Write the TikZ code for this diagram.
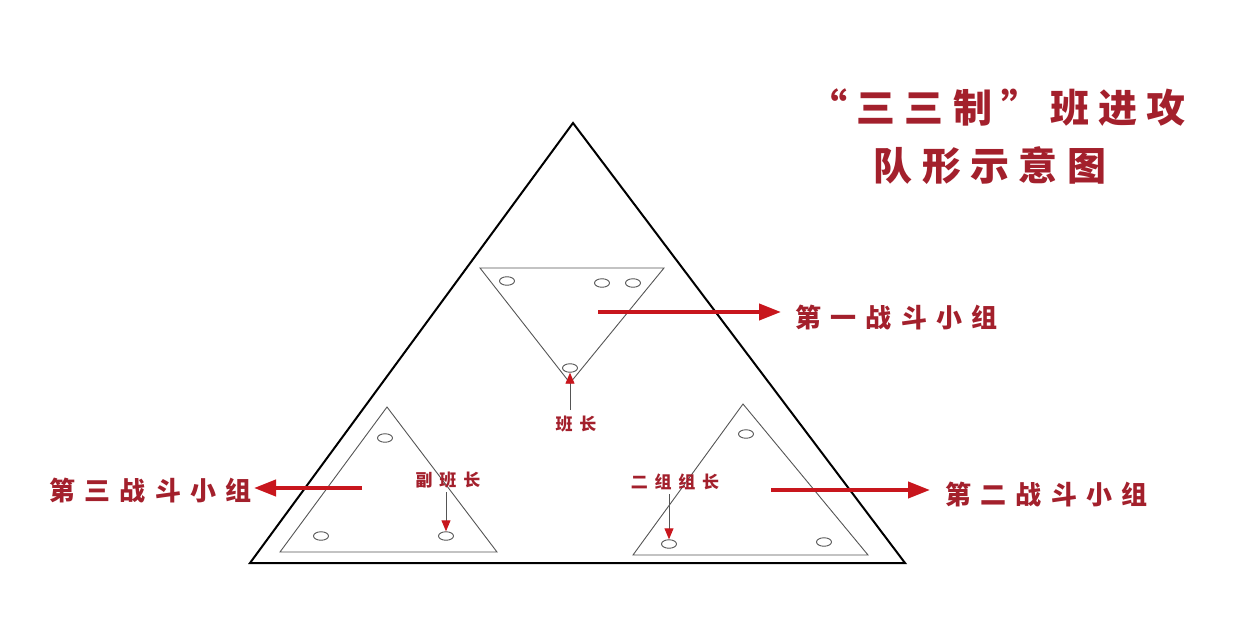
\documentclass[tikz,border=0pt]{standalone}
\usepackage{fontspec}
\usetikzlibrary{arrows.meta,shapes.geometric}
\newfontfamily\cjk[LetterSpace=40]{Noto Sans CJK SC}
\newfontfamily\cjkwide[LetterSpace=36]{Noto Sans CJK SC}
\newfontfamily\cjktitle[LetterSpace=24]{Noto Sans CJK SC}
\definecolor{txtred}{HTML}{A3202C}
\definecolor{arrred}{HTML}{C8161D}
\definecolor{thin}{HTML}{555555}
\begin{document}
\begin{tikzpicture}[x=1pt,y=-1pt,
  outer/.style={draw=black,line width=2pt,line join=miter},
  inner/.style={draw=thin,line width=0.9pt},
  seat/.style={draw=thin,line width=0.9pt,ellipse,minimum width=15pt,minimum height=8.5pt,inner sep=0pt},
  grouplabel/.style={text=txtred,font=\cjkwide\fontsize{26}{28}\selectfont\bfseries,inner sep=0pt},
  smalllabel/.style={text=txtred,font=\cjk\fontsize{17}{19}\selectfont\bfseries,inner sep=0pt},
  bigarrow/.style={draw=arrred,line width=4pt,-{Triangle[length=22pt,width=16pt]}},
  smallarrow/.style={draw=thin,line width=0.9pt,-{Triangle[length=11pt,width=9pt,color=arrred]}}
]
\useasboundingbox (0,0) rectangle (1256,626);
% big triangle
\draw[outer] (573,123) -- (905,563) -- (250,563) -- cycle;
% top small triangle (inverted)
\draw[inner] (480,268) -- (664,268) -- (570,383) -- cycle;
\node[seat] (s1) at (507,281) {};
\node[seat] (s2) at (602,283) {};
\node[seat] (s3) at (633,283) {};
\node[seat] (s4) at (570,368) {};
% bottom-left triangle
\draw[inner] (387,407) -- (497,552) -- (280,552) -- cycle;
\node[seat] (s5) at (385,438) {};
\node[seat] (s6) at (321,536) {};
\node[seat] (s7) at (446,536) {};
% bottom-right triangle
\draw[inner] (743,404) -- (868,555) -- (633,555) -- cycle;
\node[seat] (s8) at (746,434) {};
\node[seat] (s9) at (669,544) {};
\node[seat] (s10) at (824,542) {};
% title
\node[text=txtred,font=\cjktitle\fontsize{39}{41}\selectfont\bfseries,inner sep=0pt] (t1) at (997,108) {“三三制”班进攻};
\node[text=txtred,font=\cjktitle\fontsize{39}{41}\selectfont\bfseries,inner sep=0pt] (t2) at (990,166) {队形示意图};
% group labels
\node[grouplabel,anchor=west] (g1) at (795,318) {第一战斗小组};
\node[grouplabel,anchor=west] (g2) at (945,494) {第二战斗小组};
\node[grouplabel,anchor=east] (g3) at (252,490) {第三战斗小组};
% small labels
\node[smalllabel] (l1) at (576,424) {班长};
\node[smalllabel] (l2) at (448,480) {副班长};
\node[smalllabel] (l3) at (675,482) {二组组长};
% big arrows
\coordinate (a1) at (598,312);
\coordinate (a2) at (771,490);
\coordinate (a3) at (362,488);
\draw[bigarrow] (a1) -- ([xshift=-14pt]g1.west|-a1);
\draw[bigarrow] (a2) -- ([xshift=-15pt]g2.west|-a2);
\draw[bigarrow] (a3) -- ([xshift=2pt]g3.east|-a3);
% small arrows
\draw[smallarrow] (570,410) -- (s4.south);
\draw[smallarrow] ([yshift=-4pt]l2.south-|s7.north) -- (s7.north);
\draw[smallarrow] ([yshift=-4pt]l3.south-|s9.north) -- (s9.north);
\end{tikzpicture}
\end{document}
